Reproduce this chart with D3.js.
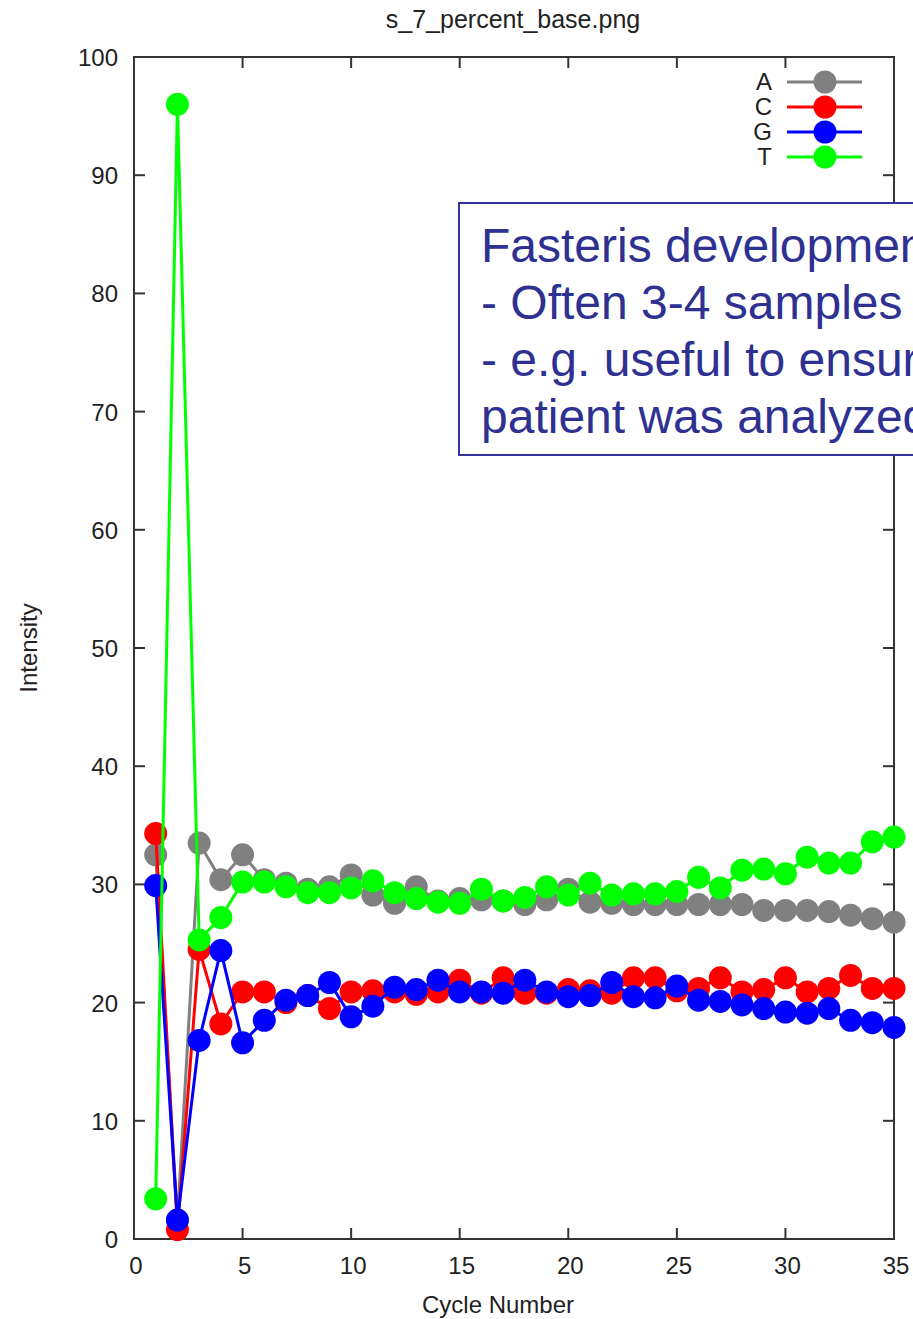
<!DOCTYPE html>
<html>
<head>
<meta charset="utf-8">
<script src="https://cdn.jsdelivr.net/npm/d3@7"></script>
<style>
  body { margin: 0; background: white; }
  svg { display: block; font-family: "Liberation Sans", Arial, sans-serif; }
</style>
</head>
<body>
<div id="chart"></div>
<script>
// cycle numbers 1..35
const cycles = [1, 2, 3, 4, 5, 6, 7, 8, 9, 10, 11, 12, 13, 14, 15, 16, 17, 18, 19, 20,
  21, 22, 23, 24, 25, 26, 27, 28, 29, 30, 31, 32, 33, 34, 35];

const baseA = [32.5, 1.6, 33.5, 30.4, 32.5, 30.4, 30.1, 29.6, 29.8, 30.8, 29.1, 28.4, 29.8, 28.6, 28.8,
  28.7, 28.6, 28.3, 28.7, 29.6, 28.5, 28.4, 28.3, 28.3, 28.3, 28.3, 28.3, 28.3, 27.8, 27.8,
  27.8, 27.7, 27.4, 27.1, 26.8];
const baseC = [34.3, 0.8, 24.5, 18.2, 20.9, 20.9, 20.0, 20.6, 19.5, 20.9, 21.0, 20.9, 20.7, 20.9, 21.9,
  20.8, 22.1, 20.8, 20.8, 21.1, 21.0, 20.8, 22.1, 22.1, 21.0, 21.2, 22.1, 20.9, 21.1, 22.1,
  20.9, 21.2, 22.3, 21.2, 21.2];
const baseG = [29.9, 1.6, 16.8, 24.4, 16.6, 18.5, 20.2, 20.6, 21.7, 18.8, 19.7, 21.3, 21.1, 21.9, 20.9,
  20.9, 20.8, 21.9, 20.9, 20.5, 20.6, 21.7, 20.5, 20.4, 21.4, 20.2, 20.1, 19.8, 19.5, 19.2,
  19.1, 19.5, 18.5, 18.3, 17.9];
const baseT = [3.4, 96.0, 25.3, 27.2, 30.2, 30.2, 29.8, 29.3, 29.3, 29.7, 30.3, 29.3, 28.8, 28.5, 28.4,
  29.6, 28.6, 28.9, 29.8, 29.1, 30.1, 29.1, 29.2, 29.2, 29.4, 30.6, 29.7, 31.2, 31.3, 30.9,
  32.3, 31.8, 31.8, 33.6, 34.0];

const seriesNames = ["A", "C", "G", "T"];
const seriesColors = ["#808080", "#ff0000", "#0000ff", "#00ff00"];
const seriesValues = [baseA, baseC, baseG, baseT];

const xTicks = [0, 5, 10, 15, 20, 25, 30, 35];
const yTicks = [0, 10, 20, 30, 40, 50, 60, 70, 80, 90, 100];

const noteLines = ["Fasteris development", "- Often 3-4 samples", "- e.g. useful to ensure", "patient was analyzed"];

const width = 913, height = 1319;
const plotLeft = 134, plotRight = 894, plotTop = 57, plotBottom = 1239;
const axisColor = "#333";

const svg = d3.select("#chart").append("svg")
  .attr("width", width)
  .attr("height", height);

const x = d3.scaleLinear().domain([0, 35]).range([plotLeft, plotRight]);
const y = d3.scaleLinear().domain([0, 100]).range([plotBottom, plotTop]);

// title
svg.append("text")
  .attr("x", 513).attr("y", 28)
  .attr("text-anchor", "middle")
  .attr("font-size", 25)
  .attr("fill", "#222")
  .text("s_7_percent_base.png");

// ticks (gnuplot style, inward on all four sides)
const tickLen = 11;
const gTicks = svg.append("g").attr("stroke", axisColor).attr("stroke-width", 2);
xTicks.forEach(t => {
  gTicks.append("line").attr("x1", x(t)).attr("x2", x(t)).attr("y1", plotBottom).attr("y2", plotBottom - tickLen);
  gTicks.append("line").attr("x1", x(t)).attr("x2", x(t)).attr("y1", plotTop).attr("y2", plotTop + tickLen);
});
yTicks.forEach(t => {
  gTicks.append("line").attr("x1", plotLeft).attr("x2", plotLeft + tickLen).attr("y1", y(t)).attr("y2", y(t));
  gTicks.append("line").attr("x1", plotRight).attr("x2", plotRight - tickLen).attr("y1", y(t)).attr("y2", y(t));
});

// tick labels
svg.append("g").selectAll("text").data(xTicks).join("text")
  .attr("x", d => x(d) + 2)
  .attr("y", 1274)
  .attr("text-anchor", "middle")
  .attr("font-size", 24)
  .attr("fill", "#222")
  .text(d => d);

svg.append("g").selectAll("text").data(yTicks).join("text")
  .attr("x", 118)
  .attr("y", d => y(d) + 9)
  .attr("text-anchor", "end")
  .attr("font-size", 24)
  .attr("fill", "#222")
  .text(d => d);

// axis titles
svg.append("text")
  .attr("x", 498).attr("y", 1313)
  .attr("text-anchor", "middle")
  .attr("font-size", 24)
  .attr("fill", "#222")
  .text("Cycle Number");

svg.append("text")
  .attr("transform", "translate(37,648) rotate(-90)")
  .attr("text-anchor", "middle")
  .attr("font-size", 24)
  .attr("fill", "#222")
  .text("Intensity");

// border
svg.append("rect")
  .attr("x", plotLeft).attr("y", plotTop)
  .attr("width", plotRight - plotLeft).attr("height", plotBottom - plotTop)
  .attr("fill", "none")
  .attr("stroke", axisColor)
  .attr("stroke-width", 2);

// data lines and points
let line = d3.line().x((d, i) => x(cycles[i])).y(d => y(d));

seriesValues.forEach((vals, k) => {
  let g = svg.append("g");
  g.append("path")
    .datum(vals)
    .attr("d", line)
    .attr("fill", "none")
    .attr("stroke", seriesColors[k])
    .attr("stroke-width", 3);
  g.selectAll("circle").data(vals).join("circle")
    .attr("cx", (d, i) => x(cycles[i]))
    .attr("cy", d => y(d))
    .attr("r", 11.5)
    .attr("fill", seriesColors[k]);
});

// legend
const legend = svg.append("g");
seriesNames.forEach((name, k) => {
  let ly = 82 + k * 25;
  legend.append("text")
    .attr("x", 772).attr("y", ly + 8)
    .attr("text-anchor", "end")
    .attr("font-size", 24)
    .attr("fill", "#222")
    .text(name);
  legend.append("line")
    .attr("x1", 787).attr("x2", 862)
    .attr("y1", ly).attr("y2", ly)
    .attr("stroke", seriesColors[k])
    .attr("stroke-width", 3);
  legend.append("circle")
    .attr("cx", 825).attr("cy", ly)
    .attr("r", 11.5)
    .attr("fill", seriesColors[k]);
});

// annotation box
const note = svg.append("g");
note.append("rect")
  .attr("x", 459).attr("y", 203)
  .attr("width", 480).attr("height", 252)
  .attr("fill", "white")
  .attr("stroke", "#333399")
  .attr("stroke-width", 2);
note.selectAll("text").data(noteLines).join("text")
  .attr("x", 481)
  .attr("y", (d, i) => 262 + i * 57)
  .attr("font-size", 48)
  .attr("fill", "#2e3192")
  .text(d => d);
</script>
</body>
</html>
